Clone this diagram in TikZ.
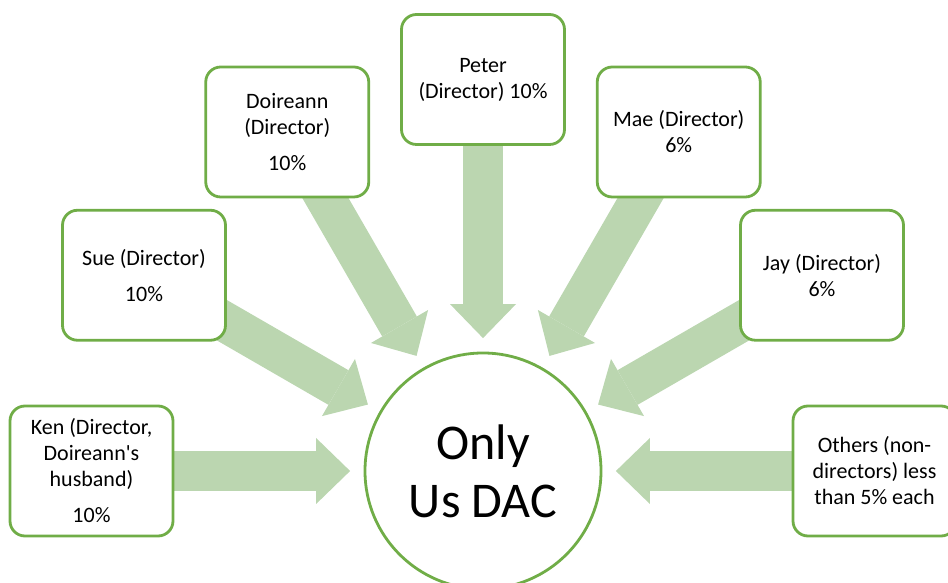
\documentclass[tikz,border=0pt]{standalone}
\usepackage{fontspec}
\setmainfont{Carlito}[Ligatures=TeXOff]
\usetikzlibrary{arrows.meta}
\definecolor{boxgreen}{HTML}{70AD47}
\definecolor{arrowgreen}{HTML}{BBD6B0}
\pgfdeclarelayer{background}
\pgfsetlayers{background,main}

\begin{document}
\begin{tikzpicture}[
		x=1pt, y=1pt,
		box/.style={rectangle, draw=boxgreen, line width=2.8pt, fill=white, rounded corners=15pt, minimum width=163pt, minimum height=130pt, align=center, inner sep=0pt, font=\fontsize{22}{26}\selectfont},
		hub/.style={circle, draw=boxgreen, line width=2.8pt, fill=white, minimum size=236pt, inner sep=0pt, align=center, font=\fontsize{50}{58}\selectfont},
		arrow/.style={arrowgreen, line width=40pt, -{Triangle[length=34pt, width=66pt, line width=0pt]}, shorten >=13.5pt}
		]
		\useasboundingbox (0,0) rectangle (948,583);
		
		\node (hub) at (483, 112) [hub] {Only\\Us DAC};
		
		\node (ken) at (91.5, 112) [box] {Ken (Director,\\Doireann's\\husband)\\[10pt]10\%};
		\node (sue) at (144, 307.75) [box] {Sue (Director)\\[10pt]10\%};
		\node (doireann) at (287.25, 451) [box] {Doireann\\(Director)\\[10pt]10\%};
		\node (peter) at (483, 503.5) [box] {Peter\\(Director) 10\%};
		\node (mae) at (678.75, 451) [box] {Mae (Director)\\6\%};
		\node (jay) at (822, 307.75) [box] {Jay (Director)\\6\%};
		\node (others) at (874.5, 112) [box] {Others (non-\\directors) less\\than 5\% each};
		
		\begin{pgfonlayer}{background}
			\foreach \who in {ken,sue,doireann,peter,mae,jay,others}
				\draw [arrow] (\who.center) -- (hub);
		\end{pgfonlayer}
	\end{tikzpicture}
\end{document}
